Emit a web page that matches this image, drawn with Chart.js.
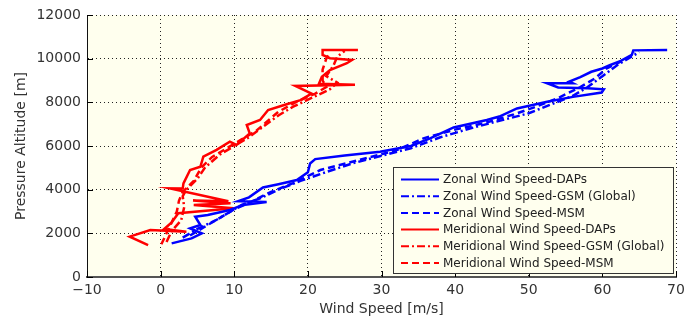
<!DOCTYPE html>
<html>
<head>
<meta charset="utf-8">
<script src="https://cdn.jsdelivr.net/npm/chart.js@4/dist/chart.umd.min.js"></script>
<style>
  body { margin: 0; background: #fff; }
  #wrap { width: 696px; height: 323px; }
</style>
</head>
<body>
<div id="wrap"><canvas id="windChart" width="696" height="323"></canvas></div>
<script>
'use strict';

// axis ticks
var xTicks = [-10, 0, 10, 20, 30, 40, 50, 60, 70];
var yTicks = [0, 2000, 4000, 6000, 8000, 10000, 12000];

// zonal wind, measured (DAPs)
var zonalDapsSpeed = [1.5, 4.2, 5.6, 4.0, 5.4, 4.7, 6.4, 9.4, 11.2, 14.4, 10.5, 12.0, 13.9, 16.0, 18.5, 20.0, 20.3, 21.0, 25.0, 29.8, 34.0, 36.6, 39.8, 44.3, 46.0, 48.4, 52.5, 56.0, 59.9, 60.2, 58.0, 54.0, 52.5, 56.0, 55.5, 57.0, 58.5, 60.0, 61.0, 62.5, 64.0, 64.2, 68.8];
var zonalDapsAlt = [1540, 1770, 2000, 2230, 2380, 2760, 2840, 3070, 3300, 3430, 3470, 3650, 4100, 4250, 4440, 4800, 5200, 5400, 5560, 5740, 6000, 6350, 6850, 7190, 7350, 7720, 8030, 8250, 8450, 8600, 8650, 8680, 8870, 8870, 8950, 9150, 9400, 9550, 9700, 9900, 10170, 10380, 10400];

// zonal wind, GSM (Global)
var zonalGsmSpeed = [3.0, 5.0, 7.5, 9.5, 11.0, 13.5, 16.0, 19.0, 22.0, 26.0, 30.0, 34.0, 38.0, 42.0, 46.0, 50.0, 53.0, 56.0, 58.0, 60.0, 62.0, 64.0, 65.0];
var zonalGsmAlt = [1800, 2200, 2600, 3000, 3300, 3600, 4000, 4400, 4750, 5200, 5550, 5900, 6400, 6800, 7150, 7500, 7900, 8300, 8700, 9200, 9700, 10100, 10300];

// zonal wind, MSM
var zonalMsmSpeed = [4.0, 6.0, 8.0, 10.0, 12.0, 15.0, 18.0, 21.7, 24.0, 28.0, 32.0, 35.7, 40.0, 44.0, 48.0, 51.0, 54.0, 57.0, 59.0, 60.6, 63.0, 64.5];
var zonalMsmAlt = [1900, 2300, 2700, 3100, 3400, 3900, 4300, 4900, 5100, 5450, 5800, 6350, 6750, 7050, 7450, 7800, 8200, 8700, 9100, 9560, 9950, 10250];

// meridional wind, measured (DAPs)
var meridDapsSpeed = [-1.7, -4.2, -1.4, 3.5, 0.5, 1.5, 2.4, 9.9, 4.5, 9.5, 4.4, 9.2, 1.3, 3.0, 3.1, 4.0, 5.4, 5.8, 7.6, 9.4, 10.3, 12.1, 11.7, 13.5, 14.6, 17.0, 19.0, 20.5, 18.3, 26.4, 21.5, 21.9, 23.0, 25.3, 26.0, 23.0, 22.0, 22.0, 26.8];
var meridDapsAlt = [1465, 1850, 2150, 2075, 2200, 2500, 2920, 3150, 3300, 3380, 3500, 3470, 4060, 4050, 4290, 4900, 5050, 5510, 5820, 6200, 6050, 6580, 6960, 7190, 7650, 7900, 8100, 8400, 8750, 8800, 8850, 9170, 9480, 9790, 9940, 10020, 10170, 10400, 10400];

// meridional wind, GSM (Global)
var meridGsmSpeed = [0.8, 1.5, 2.8, 3.2, 3.0, 3.5, 5.0, 6.0, 8.0, 10.0, 12.0, 14.0, 16.0, 18.0, 20.5, 23.0, 24.0, 22.5, 23.5, 24.0, 25.0];
var meridGsmAlt = [1600, 2100, 2600, 3200, 3700, 4000, 4500, 5000, 5600, 6000, 6400, 6900, 7400, 7800, 8200, 8600, 8900, 9200, 9700, 10100, 10350];

// meridional wind, MSM
var meridMsmSpeed = [0.1, 0.8, 1.5, 2.2, 2.5, 3.0, 4.5, 5.5, 7.0, 9.0, 11.0, 13.0, 16.0, 18.5, 21.0, 22.5, 22.0, 22.0, 22.5, 23.0];
var meridMsmAlt = [1500, 2000, 2500, 3000, 3500, 3900, 4400, 5000, 5500, 5900, 6300, 6700, 7570, 8030, 8400, 8700, 9000, 9500, 10000, 10300];

var BLUE = '#0000ff';
var RED = '#ff0000';
var SOLID = [];
var DASH_DOT = [8, 3, 2, 3];
var DASHED = [7, 4];

function toPoints(speed, alt) {
  let pts = [];
  for (let i = 0; i < speed.length; i++) {
    pts.push({x: speed[i], y: alt[i]});
  }
  return pts;
}

function makeSeries(label, speed, alt, color, dash) {
  return {
    label: label,
    data: toPoints(speed, alt),
    showLine: true,
    borderColor: color,
    backgroundColor: color,
    borderWidth: 2.5,
    borderDash: dash,
    pointRadius: 0,
    tension: 0
  };
}

var datasets = [
  makeSeries('Zonal Wind Speed-DAPs', zonalDapsSpeed, zonalDapsAlt, BLUE, SOLID),
  makeSeries('Zonal Wind Speed-GSM (Global)', zonalGsmSpeed, zonalGsmAlt, BLUE, DASH_DOT),
  makeSeries('Zonal Wind Speed-MSM', zonalMsmSpeed, zonalMsmAlt, BLUE, DASHED),
  makeSeries('Meridional Wind Speed-DAPs', meridDapsSpeed, meridDapsAlt, RED, SOLID),
  makeSeries('Meridional Wind Speed-GSM (Global)', meridGsmSpeed, meridGsmAlt, RED, DASH_DOT),
  makeSeries('Meridional Wind Speed-MSM', meridMsmSpeed, meridMsmAlt, RED, DASHED)
];

var PLOT_BG = '#ffffee';
var FONT = 'DejaVu Sans';

// pale plot background
var plotBackground = {
  id: 'plotBackground',
  beforeDraw: function (chart) {
    let ca = chart.chartArea;
    let ctx = chart.ctx;
    ctx.save();
    ctx.fillStyle = PLOT_BG;
    ctx.fillRect(ca.left, ca.top, ca.right - ca.left, ca.bottom - ca.top);
    ctx.restore();
  }
};

// short tick marks pointing into the plot
var innerTicks = {
  id: 'innerTicks',
  afterDatasetsDraw: function (chart) {
    let ctx = chart.ctx;
    let ca = chart.chartArea;
    let xs = chart.scales.x, ys = chart.scales.y;
    ctx.save();
    ctx.strokeStyle = '#000';
    ctx.lineWidth = 1;
    ctx.beginPath();
    xTicks.forEach(v => {
      let px = Math.round(xs.getPixelForValue(v)) + 0.5;
      ctx.moveTo(px, ca.bottom);
      ctx.lineTo(px, ca.bottom - 6);
    });
    yTicks.forEach(v => {
      let py = Math.round(ys.getPixelForValue(v)) + 0.5;
      ctx.moveTo(ca.left, py);
      ctx.lineTo(ca.left + 6, py);
    });
    ctx.stroke();
    ctx.restore();
  }
};

// boxed legend in the lower right corner of the plot
var boxLegend = {
  id: 'boxLegend',
  afterDraw: function (chart) {
    let ctx = chart.ctx;
    let ca = chart.chartArea;
    let w = 280, h = 106;
    let left = ca.right - 3 - w;
    let top = ca.bottom - 4 - h;
    ctx.save();
    ctx.fillStyle = PLOT_BG;
    ctx.fillRect(left, top, w, h);
    ctx.strokeStyle = '#333';
    ctx.lineWidth = 1;
    ctx.strokeRect(left + 0.5, top + 0.5, w, h);
    ctx.font = '12px "' + FONT + '"';
    ctx.textBaseline = 'middle';
    ctx.fillStyle = '#222';
    chart.data.datasets.forEach((ds, i) => {
      let y = top + 12.5 + i * 16.7;
      ctx.beginPath();
      ctx.setLineDash(ds.borderDash);
      ctx.strokeStyle = ds.borderColor;
      ctx.lineWidth = 2;
      ctx.moveTo(left + 8, y);
      ctx.lineTo(left + 46, y);
      ctx.stroke();
      ctx.setLineDash([]);
      ctx.fillText(ds.label, left + 50, y + 0.5);
    });
    ctx.restore();
  }
};

function fmtTick(v) {
  return v < 0 ? '\u2212' + Math.abs(v) : String(v);
}

var ctx = document.getElementById('windChart').getContext('2d');
new Chart(ctx, {
  type: 'scatter',
  data: { datasets: datasets },
  plugins: [plotBackground, innerTicks, boxLegend],
  options: {
    responsive: false,
    animation: false,
    layout: { padding: { top: 15, right: 20, left: 0, bottom: 5 } },
    plugins: {
      legend: { display: false },
      tooltip: { enabled: false }
    },
    scales: {
      x: {
        type: 'linear',
        min: -10,
        max: 70,
        afterBuildTicks: s => { s.ticks = xTicks.map(v => ({value: v})); },
        afterFit: s => { s.height = 41; },
        ticks: {
          callback: fmtTick,
          color: '#333',
          font: { family: FONT, size: 14 },
          padding: 5,
          maxRotation: 0
        },
        grid: { color: '#222', lineWidth: 1, drawTicks: false },
        border: { display: true, color: '#555', width: 2, dash: [1, 3] },
        title: {
          display: true,
          text: 'Wind Speed [m/s]',
          color: '#333',
          font: { family: FONT, size: 14 },
          padding: { top: 0, bottom: 0 }
        }
      },
      y: {
        type: 'linear',
        min: 0,
        max: 12000,
        afterBuildTicks: s => { s.ticks = yTicks.map(v => ({value: v})); },
        afterFit: s => { s.width = 87; },
        ticks: {
          callback: fmtTick,
          color: '#333',
          font: { family: FONT, size: 14 },
          padding: 6
        },
        grid: { color: '#222', lineWidth: 1, drawTicks: false },
        border: { display: true, color: '#111', width: 1, dash: [1, 3] },
        title: {
          display: true,
          text: 'Pressure Altitude [m]',
          color: '#333',
          font: { family: FONT, size: 14 },
          padding: { top: 13, bottom: 0 }
        }
      }
    }
  }
});
</script>
</body>
</html>
